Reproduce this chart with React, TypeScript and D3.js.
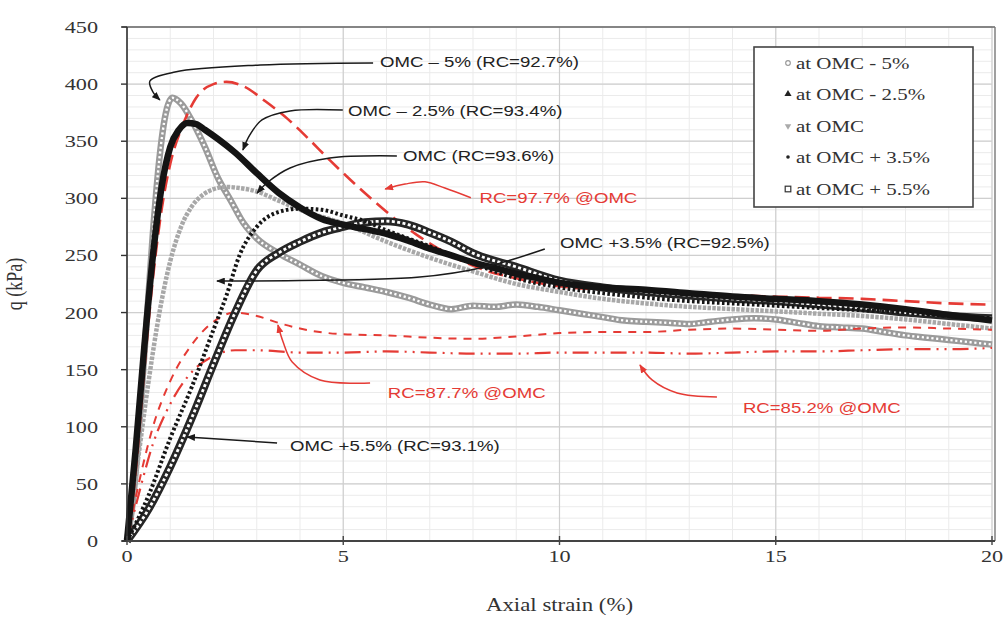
import React from 'react';
import * as d3 from 'd3';

// ---------- data (strain %, q kPa) ----------
const xTickValues = [0, 5, 10, 15, 20];
const yTickValues = [0, 50, 100, 150, 200, 250, 300, 350, 400, 450];

const strainOmcM5 = [0, 0.15, 0.3, 0.45, 0.6, 0.75, 0.9, 1.05, 1.25, 1.5, 1.8, 2.1, 2.4, 2.7, 3.0, 3.5, 4.0, 4.5, 5.0, 5.5, 6.0, 6.5, 7.0, 7.5, 8.0, 8.5, 9.0, 9.5, 10, 10.5, 11, 11.5, 12, 12.5, 13, 13.5, 14, 14.5, 15, 15.5, 16, 16.5, 17, 17.5, 18, 18.5, 19, 19.5, 20];
const qOmcM5 = [0, 40, 110, 190, 270, 335, 375, 388, 383, 368, 345, 318, 298, 278, 265, 252, 242, 232, 226, 222, 218, 213, 207, 203, 206, 205, 207, 205, 202, 199, 196, 193, 192, 191, 190, 192, 194, 195, 194, 191, 188, 187, 186, 183, 180, 178, 176, 174, 172];

const strainOmcM25 = [0, 0.2, 0.4, 0.6, 0.8, 1.0, 1.2, 1.4, 1.6, 1.8, 2.1, 2.5, 3.0, 3.5, 4.0, 4.5, 5.0, 5.5, 6.0, 6.5, 7.0, 7.5, 8.0, 8.5, 9.0, 9.5, 10, 11, 12, 13, 14, 15, 16, 17, 18, 19, 20];
const qOmcM25 = [0, 80, 170, 250, 310, 345, 360, 366, 365, 360, 352, 340, 322, 305, 292, 282, 277, 273, 269, 263, 256, 250, 244, 239, 234, 230, 226, 222, 220, 217, 214, 212, 210, 207, 203, 198, 193];

const strainOmc = [0, 0.25, 0.5, 0.75, 1.0, 1.25, 1.5, 1.75, 2.0, 2.3, 2.6, 3.0, 3.5, 4.0, 5.0, 6.0, 7.0, 8.0, 9.0, 10, 11, 12, 13, 14, 15, 16, 17, 18, 19, 20];
const qOmc = [0, 70, 140, 200, 245, 275, 293, 303, 308, 310, 309, 306, 298, 290, 278, 262, 248, 236, 225, 218, 212, 208, 205, 203, 201, 199, 197, 194, 190, 186];

const strainOmcP35 = [0, 0.5, 1.0, 1.5, 2.0, 2.3, 2.6, 3.0, 3.5, 4.0, 4.5, 5.0, 5.5, 6.0, 7.0, 8.0, 9.0, 10, 11, 12, 13, 14, 15, 16, 17, 18, 19, 20];
const qOmcP35 = [0, 40, 90, 135, 185, 215, 250, 275, 288, 291, 290, 285, 280, 272, 258, 243, 230, 222, 217, 213, 210, 208, 206, 204, 202, 200, 197, 195];

const strainOmcP55 = [0, 0.5, 1.0, 1.5, 2.0, 2.5, 3.0, 3.5, 4.0, 4.5, 5.0, 5.5, 6.0, 6.5, 7.0, 7.5, 8.0, 9.0, 10, 11, 12, 13, 14, 15, 16, 17, 18, 19, 20];
const qOmcP55 = [0, 28, 65, 108, 155, 200, 237, 252, 262, 270, 275, 279, 280, 277, 270, 262, 252, 240, 228, 222, 218, 215, 212, 210, 207, 204, 200, 197, 195];

const strainRc977 = [0, 0.2, 0.4, 0.6, 0.8, 1.0, 1.3, 1.6, 2.0, 2.3, 2.7, 3.2, 3.7, 4.2, 4.7, 5.2, 5.7, 6.2, 6.7, 7.2, 7.7, 8.2, 9, 10, 11, 12, 13, 14, 15, 16, 17, 18, 19, 20];
const qRc977 = [0, 60, 150, 230, 290, 330, 365, 388, 400, 402, 398, 385, 370, 352, 333, 315, 298, 282, 268, 256, 246, 238, 230, 223, 220, 218, 216, 215, 214, 213, 212, 210, 208, 207];

const strainRc877 = [0, 0.3, 0.6, 1.0, 1.5, 2.0, 2.5, 3.0, 3.5, 4.0, 5, 6, 7, 8, 9, 10, 11, 12, 13, 14, 15, 16, 17, 18, 19, 20];
const qRc877 = [0, 55, 100, 140, 172, 192, 200, 197, 191, 186, 181, 180, 178, 177, 179, 182, 183, 183, 185, 186, 185, 184, 186, 187, 186, 185];

const strainRc852 = [0, 0.3, 0.6, 1.0, 1.5, 2.0, 2.5, 3, 4, 5, 6, 7, 8, 9, 10, 11, 12, 13, 14, 15, 16, 17, 18, 19, 20];
const qRc852 = [0, 45, 85, 120, 148, 162, 167, 167, 165, 165, 166, 165, 164, 164, 165, 165, 165, 164, 165, 166, 166, 167, 168, 168, 169];

const legendLabels = ['at OMC - 5%', 'at OMC - 2.5%', 'at OMC', 'at OMC + 3.5%', 'at OMC + 5.5%'];

// annotations: label, text anchor point (strain, q), leader points (strain, q)
const annotationLabels = [
  'OMC – 5% (RC=92.7%)',
  'OMC – 2.5% (RC=93.4%)',
  'OMC (RC=93.6%)',
  'RC=97.7% @OMC',
  'OMC +3.5% (RC=92.5%)',
  'RC=87.7% @OMC',
  'RC=85.2% @OMC',
  'OMC +5.5% (RC=93.1%)',
];
const annotationTextAt: [number, number][] = [
  [5.85, 419.4], [5.11, 377.3], [6.38, 337.1], [8.15, 300.5],
  [10.01, 261.0], [6.03, 129.6], [14.24, 117.3], [3.77, 84.0],
];
const annotationLeaders: [number, number][][] = [
  [[5.69, 418.5], [3.08, 416.7], [1.11, 410.6], [0.53, 402.7], [0.6, 393.1], [0.76, 386.1]],
  [[4.99, 377.3], [3.77, 376.5], [3.12, 368.6], [2.84, 355.5], [2.68, 342.3]],
  [[6.24, 337.1], [4.69, 335.3], [3.77, 326.6], [3.26, 314.3], [3.01, 304.7]],
  [[7.95, 300.5], [7.35, 309.0], [6.89, 314.5], [6.43, 312.5], [5.97, 308.2]],
  [[9.66, 255.6], [8.28, 239.9], [6.77, 231.1], [2.08, 227.6]],
  [[5.62, 138.3], [4.46, 141.0], [3.82, 156.7], [3.61, 174.2], [3.49, 189.1]],
  [[13.64, 126.1], [12.72, 129.6], [12.14, 141.0], [11.86, 154.1]],
  [[3.47, 85.8], [1.39, 91.1]],
];
const annotationRed = [false, false, false, true, false, true, true, false];

// ---------- helpers ----------
const zip = (xs: number[], ys: number[]): [number, number][] => xs.map((x, i) => [x, ys[i]]);

const RED = '#e53b35';
const SX = 1.27; // horizontal stretch of the reference's text

export default function App() {
  const x = d3.scaleLinear().domain([0, 20]).range([127, 992]);
  const y = d3.scaleLinear().domain([0, 450]).range([541, 27]);

  const line = d3.line<[number, number]>().x(d => x(d[0])).y(d => y(d[1])).curve(d3.curveMonotoneX);
  const leader = d3.line<[number, number]>().x(d => x(d[0])).y(d => y(d[1])).curve(d3.curveCatmullRom.alpha(0.5));

  const minorX = d3.range(0, 21, 1);
  const minorY = d3.range(0, 451, 10);

  const dM5 = line(zip(strainOmcM5, qOmcM5)) || '';
  const dM25 = line(zip(strainOmcM25, qOmcM25)) || '';
  const dOmc = line(zip(strainOmc, qOmc)) || '';
  const dP35 = line(zip(strainOmcP35, qOmcP35)) || '';
  const dP55 = line(zip(strainOmcP55, qOmcP55)) || '';
  const d977 = line(zip(strainRc977, qRc977)) || '';
  const d877 = line(zip(strainRc877, qRc877)) || '';
  const d852 = line(zip(strainRc852, qRc852)) || '';

  const serif = '"Liberation Serif", "Times New Roman", serif';
  const sans = '"Liberation Sans", Arial, sans-serif';

  const legendY = [63, 94, 126, 157, 189];
  const sym = (t: d3.SymbolType, s: number) => d3.symbol().type(t).size(s)() || '';
  const legendSymbols = [
    <circle r={2.3} fill="none" stroke="#999" strokeWidth={1.2} />,
    <path d={sym(d3.symbolTriangle, 22)} fill="#222" />,
    <path d={sym(d3.symbolTriangle, 18)} fill="#aaa" transform="rotate(180)" />,
    <circle r={1.8} fill="#222" />,
    <rect x={-2.8} y={-2.8} width={5.6} height={5.6} fill="none" stroke="#333" strokeWidth={1.2} />,
  ];

  return (
    <svg width={1006} height={617} style={{ position: 'absolute', left: 0, top: 0, background: '#fff' }}>
      <defs>
        <marker id="arrK" viewBox="0 0 10 8" refX="9" refY="4" markerWidth="9" markerHeight="7" orient="auto" markerUnits="userSpaceOnUse">
          <path d="M0,0 L10,4 L0,8 z" fill="#1a1a1a" />
        </marker>
        <marker id="arrR" viewBox="0 0 10 8" refX="9" refY="4" markerWidth="9" markerHeight="7" orient="auto" markerUnits="userSpaceOnUse">
          <path d="M0,0 L10,4 L0,8 z" fill={RED} />
        </marker>
      </defs>
      <rect x={0} y={0} width={1006} height={617} fill="#fff" />

      {/* minor grid */}
      {minorX.map(v => (
        <line key={'mx' + v} x1={x(v)} x2={x(v)} y1={y(0)} y2={y(450)} stroke="#ebebeb" strokeWidth={1} />
      ))}
      {minorY.map(v => (
        <line key={'my' + v} x1={x(0)} x2={x(20)} y1={y(v)} y2={y(v)} stroke="#ebebeb" strokeWidth={1} />
      ))}
      {/* major grid */}
      {xTickValues.map(v => (
        <line key={'Mx' + v} x1={x(v)} x2={x(v)} y1={y(0)} y2={y(450)} stroke="#cfcfcf" strokeWidth={1.2} />
      ))}
      {yTickValues.map(v => (
        <line key={'My' + v} x1={x(0)} x2={x(20)} y1={y(v)} y2={y(v)} stroke="#cfcfcf" strokeWidth={1.2} />
      ))}
      {/* frame */}
      <line x1={x(0) - 5} x2={x(20) + 3} y1={y(450)} y2={y(450)} stroke="#666" strokeWidth={1.6} />
      <line x1={x(20) + 3} x2={x(20) + 3} y1={y(450)} y2={y(0)} stroke="#777" strokeWidth={1.4} />

      {/* series */}
      <path d={dM5} fill="none" stroke="#9b9b9b" strokeWidth={6.5} strokeLinejoin="round" />
      <path d={dM5} fill="none" stroke="#fff" strokeWidth={2.4} strokeDasharray="2.2 2.6" />
      <path d={dOmc} fill="none" stroke="#a8a8a8" strokeWidth={4.5} strokeDasharray="3.5 1.3" />
      <path d={d852} fill="none" stroke={RED} strokeWidth={2.2} strokeDasharray="16 6 2 6 2 6" />
      <path d={d877} fill="none" stroke={RED} strokeWidth={2} strokeDasharray="8 7" />
      <path d={d977} fill="none" stroke={RED} strokeWidth={2.6} strokeDasharray="15 7" />
      <path d={dP55} fill="none" stroke="#262626" strokeWidth={8} strokeLinejoin="round" />
      <path d={dP55} fill="none" stroke="#fff" strokeWidth={2.8} strokeDasharray="3 2.4" />
      <path d={dP35} fill="none" stroke="#151515" strokeWidth={4} strokeDasharray="2.6 2.4" />
      <path d={dM25} fill="none" stroke="#141414" strokeWidth={6.5} strokeLinejoin="round" />

      {/* axes */}
      <line x1={x(0)} x2={x(0)} y1={y(0)} y2={y(450)} stroke="#333" strokeWidth={1.6} />
      <line x1={x(0) - 5} x2={x(20) + 3} y1={y(0)} y2={y(0)} stroke="#444" strokeWidth={2} />
      {yTickValues.map(v => (
        <g key={'yt' + v}>
          <line x1={x(0) - 6} x2={x(0)} y1={y(v)} y2={y(v)} stroke="#333" strokeWidth={1.4} />
          <text transform={`translate(${x(0) - 29},${y(v) + 6}) scale(${SX},1)`} textAnchor="end" fontFamily={serif} fontSize={17.5} fill="#333">{v}</text>
        </g>
      ))}
      {xTickValues.map(v => (
        <g key={'xt' + v}>
          <line x1={x(v)} x2={x(v)} y1={y(0) - 5} y2={y(0) + 4} stroke="#444" strokeWidth={1.4} />
          <text transform={`translate(${x(v)},${y(0) + 21}) scale(${SX},1)`} textAnchor="middle" fontFamily={serif} fontSize={17.5} fill="#333">{v}</text>
        </g>
      ))}
      <text transform={`translate(${(x(0) + x(20)) / 2},${y(0) + 70}) scale(${SX},1)`} textAnchor="middle" fontFamily={serif} fontSize={18} fill="#333">Axial strain (%)</text>
      <text transform={`translate(22,${(y(0) + y(450)) / 2}) scale(${SX},1) rotate(-90)`} textAnchor="middle" fontFamily={serif} fontSize={18} fill="#333">q (kPa)</text>

      {/* annotations */}
      {annotationLabels.map((lab, i) => {
        const red = annotationRed[i];
        const [tx, tq] = annotationTextAt[i];
        return (
          <g key={'ann' + i}>
            <path d={leader(annotationLeaders[i]) || ''} fill="none" stroke={red ? RED : '#1a1a1a'} strokeWidth={1.5} markerEnd={`url(#${red ? 'arrR' : 'arrK'})`} />
            <text transform={`translate(${x(tx)},${y(tq) + 5.5}) scale(1.2,1)`} fontFamily={sans} fontSize={15.5} fill={red ? RED : '#222'}>{lab}</text>
          </g>
        );
      })}

      {/* legend */}
      <rect x={754} y={47} width={219} height={160} fill="#fff" stroke="#444" strokeWidth={1.6} />
      {legendLabels.map((lab, i) => (
        <g key={'lg' + i}>
          <g transform={`translate(788,${legendY[i]})`}>{legendSymbols[i]}</g>
          <text transform={`translate(796,${legendY[i] + 6}) scale(${SX},1)`} fontFamily={serif} fontSize={16.5} fill="#333">{lab}</text>
        </g>
      ))}
    </svg>
  );
}
